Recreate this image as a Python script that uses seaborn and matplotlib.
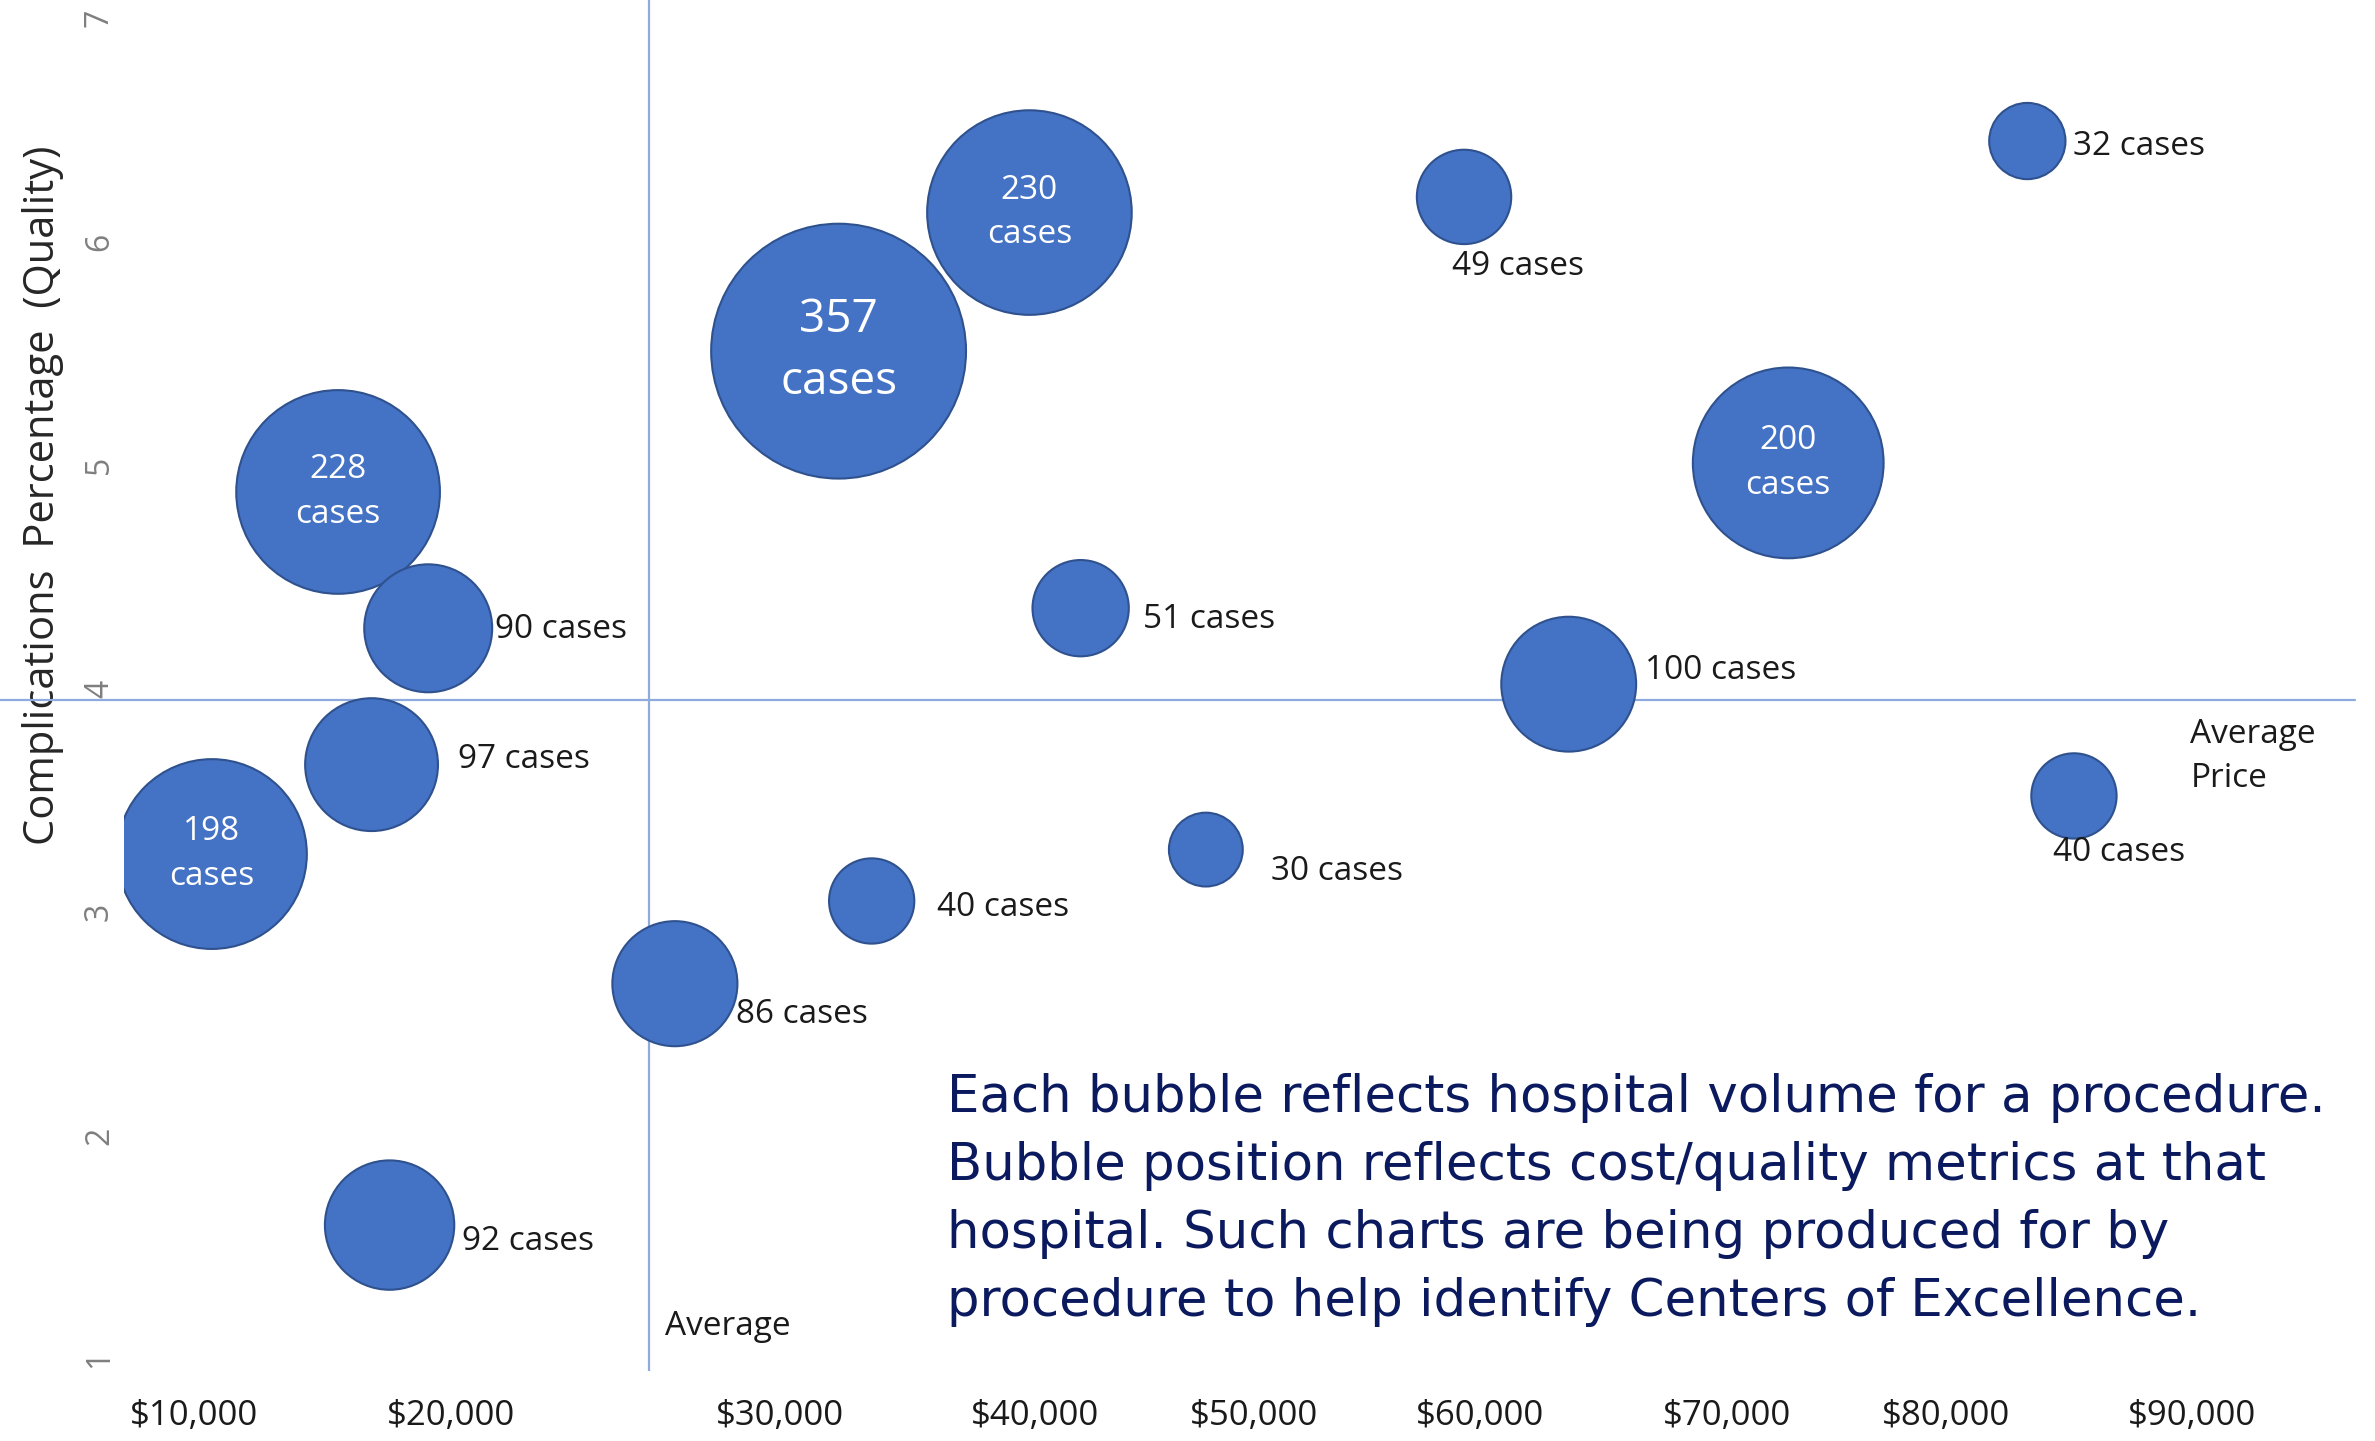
import numpy as np
import pandas as pd
import seaborn as sns
import matplotlib.pyplot as plt

# Hospital volume (cases) and cost / quality metrics for one procedure
cases = [357, 230, 228, 200, 198, 100, 97, 92, 90, 86, 51, 49, 40, 40, 32, 30]
price = [32300, 39800, 15600, 72800, 10700, 63600, 16900, 17600, 19100, 26800,
         42100, 59300, 33600, 85200, 83300, 47800]
complications = [5.51, 6.13, 4.88, 5.01, 3.26, 4.02, 3.66, 1.60, 4.27, 2.68,
                 4.36, 6.20, 3.05, 3.52, 6.45, 3.28]

avg_price = 26000
avg_complications = 3.95

x_ticks = [10000, 20000, 30000, 40000, 50000, 60000, 70000, 80000, 90000]
x_tick_labels = ["$10,000", "$20,000", "$30,000", "$40,000", "$50,000",
                 "$60,000", "$70,000", "$80,000", "$90,000"]
y_ticks = [1, 2, 3, 4, 5, 6, 7]

note = ("Each bubble reflects hospital volume for a procedure.\n"
        "Bubble position reflects cost/quality metrics at that\n"
        "hospital. Such charts are being produced for by\n"
        "procedure to help identify Centers of Excellence.")

# The original price axis is unevenly spaced: relative positions of its dollar marks
axis_dollars = [0, 10000, 20000, 30000, 40000, 50000, 60000, 70000, 80000, 90000, 100000]
axis_positions = [-37, 128, 298, 515, 683, 828, 977, 1140, 1285, 1447, 1612]

# label offsets (points) for the small bubbles, labels of big ones sit inside
label_offsets = [None, None, None, None, None, (55, 10), (62, 4), (52, -12), (48, -1),
                 (44, -22), (45, -8), (-9, -50), (47, -5), (-15, -41), (33, -4), (47, -16)]

BUBBLE = "#4472C4"
EDGE = "#2F528F"
GUIDE = "#8FAADC"
NAVY = "#0B1A5E"


def forward(x):
    return np.interp(x, axis_dollars, axis_positions)


def inverse(x):
    return np.interp(x, axis_positions, axis_dollars)


df = pd.DataFrame({"price": price, "complications": complications, "cases": cases})

sns.set_style("white")
plt.rcParams["font.family"] = ["Open Sans", "DejaVu Sans"]

fig = plt.figure(figsize = (23.75, 14.41), dpi = 100)
ax = fig.add_axes([0.0523, 0.0484, 0.9477, 0.9516])

ax.axvline(avg_price, color = GUIDE, lw = 1.6, zorder = 1)
ax.axhline(avg_complications, xmin = -0.0552, xmax = 0.991, color = GUIDE, lw = 1.6,
           clip_on = False, zorder = 1)

sns.scatterplot(
    data = df, x = "price", y = "complications", size = "cases",
    sizes = (2826, 33670), size_norm = (30, 357), legend = False,
    color = BUBBLE, edgecolor = EDGE, linewidth = 1.5, alpha = 1, ax = ax, zorder = 3
)

ax.set_xscale("function", functions = (forward, inverse))
ax.set_xlim(7212, 97333)
ax.set_ylim(0.946, 7.081)

for i, (c, px, cq) in enumerate(zip(cases, price, complications)):
    if label_offsets[i] is None:
        ax.text(px, cq, f"{c}\ncases", color = "white", ha = "center", va = "center",
                fontsize = 33 if c > 300 else 24, linespacing = 1.45, zorder = 4)
    else:
        ax.annotate(f"{c} cases", xy = (px, cq), xytext = label_offsets[i],
                    textcoords = "offset points", ha = "left", va = "center",
                    fontsize = 24, color = "#1a1a1a", zorder = 4)

ax.annotate("Average\nPrice", xy = (0.918, avg_complications),
            xycoords = ("axes fraction", "data"), xytext = (0, -13),
            textcoords = "offset points", ha = "left", va = "top",
            fontsize = 24, color = "#1a1a1a", linespacing = 1.45)
ax.annotate("Average", xy = (avg_price, 0), xycoords = ("data", "axes fraction"),
            xytext = (12, 32), textcoords = "offset points", ha = "left", va = "center",
            fontsize = 24, color = "#1a1a1a")

ax.set_xticks(x_ticks)
ax.set_xticklabels(x_tick_labels)
ax.set_yticks(y_ticks)
ax.set_yticklabels([str(t) for t in y_ticks], rotation = 90, va = "center")
ax.tick_params(axis = "x", length = 0, pad = 20, labelsize = 25, labelcolor = "#1a1a1a")
ax.tick_params(axis = "y", length = 0, pad = 6, labelsize = 23, labelcolor = "#7f7f7f")

ax.set_xlabel("")
ax.set_ylabel("Complications  Percentage  (Quality)", fontsize = 30, color = "#262626")
ax.yaxis.set_label_coords(-0.036, 0.639)
ax.yaxis.label.set_va("center")

for side in ["top", "right", "bottom", "left"]:
    ax.spines[side].set_visible(False)

fig.text(0.3986, 0.2555, note, ha = "left", va = "top", fontsize = 37, color = NAVY,
         family = ["DejaVu Sans"], linespacing = 1.46)

fig.savefig("out.png", dpi = 100)
